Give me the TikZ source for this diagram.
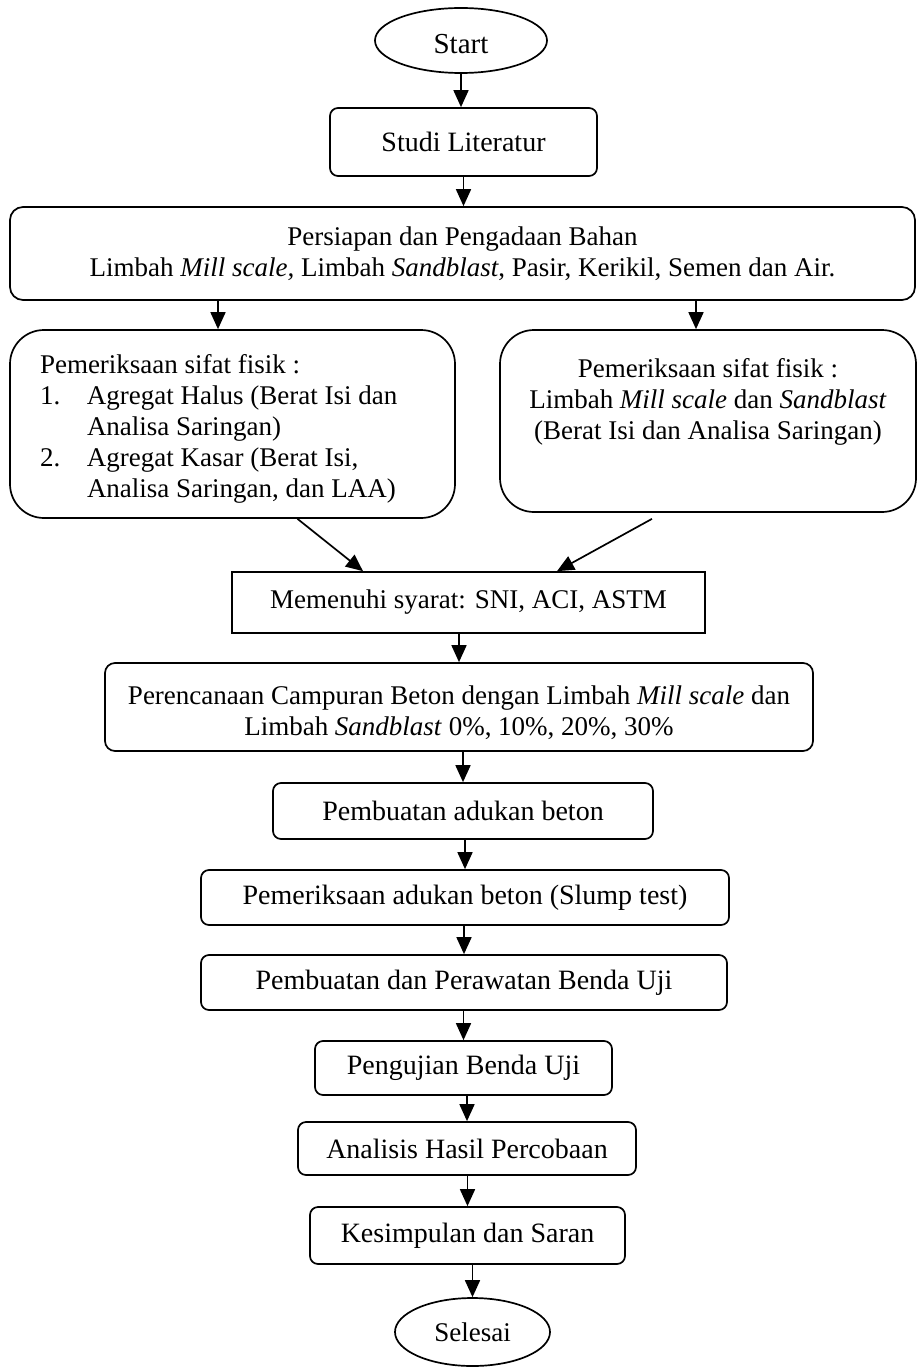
\documentclass[tikz,border=0pt]{standalone}
\usepackage{fontspec}
\setmainfont{Liberation Serif}
\usetikzlibrary{shapes.geometric,arrows.meta}
\begin{document}
\begin{tikzpicture}[x=1pt,y=-1pt,line width=1.7pt,
  every node/.style={font=\fontsize{27}{31}\selectfont},
  big/.style={font=\fontsize{28}{31}\selectfont},
  box/.style={draw,rounded corners=8pt,inner sep=0pt,align=center},
  sqbox/.style={draw,inner sep=0pt,align=center},
  bigbox/.style={draw,rounded corners=34pt,inner sep=0pt},
  term/.style={draw,ellipse,inner sep=0pt},
  arr/.style={-{Triangle[length=17pt,width=15pt]},line width=1.7pt}]
\useasboundingbox (0,0) rectangle (917,1367);

\node[term,minimum width=172pt,minimum height=65pt,font=\fontsize{29}{31}\selectfont] (start) at (461,40.5) {\rule{0pt}{26pt}Start};
\node[box,big,minimum width=267pt,minimum height=68pt] (studi) at (463.5,142) {Studi Literatur};
\node[box,rounded corners=13pt,minimum width=905pt,minimum height=93pt] (persiapan) at (462.5,253.5)
  {Persiapan dan Pengadaan Bahan\\Limbah \textit{Mill scale,} Limbah \textit{Sandblast}, Pasir, Kerikil, Semen dan Air.};
\node[bigbox,minimum width=445pt,minimum height=188pt,
  label={[anchor=west,align=left,inner sep=0pt,xshift=30pt,yshift=-5pt]west:{Pemeriksaan sifat fisik :\\
   \makebox[47pt][l]{1.}Agregat Halus (Berat Isi dan\\
   \hspace*{47pt}Analisa Saringan)\\
   \makebox[47pt][l]{2.}Agregat Kasar (Berat Isi,\\
   \hspace*{47pt}Analisa Saringan, dan LAA)}}] (lbox) at (232.5,424) {};
\node[bigbox,minimum width=416pt,minimum height=182pt,
  label={[anchor=north,align=center,inner sep=0pt,yshift=-28pt]north:{Pemeriksaan sifat fisik :\\Limbah \textit{Mill scale} dan \textit{Sandblast}\\(Berat Isi dan Analisa Saringan)}}] (rbox) at (708,421) {};
\node[sqbox,minimum width=473pt,minimum height=61pt] (memenuhi) at (468.5,602.5) {Memenuhi syarat: SNI, ACI, ASTM};
\node[box,rounded corners=10pt,minimum width=708pt,minimum height=88pt] (perenc) at (459,707)
  {\rule{0pt}{30pt}Perencanaan Campuran Beton dengan Limbah \textit{Mill scale} dan\\Limbah \textit{Sandblast} 0\%, 10\%, 20\%, 30\%};
\node[box,big,minimum width=380pt,minimum height=56pt] (adukan) at (463,811) {Pembuatan adukan beton};
\node[box,big,minimum width=528pt,minimum height=55pt] (slump) at (465,897.5) {Pemeriksaan adukan beton (Slump test)};
\node[box,big,minimum width=526pt,minimum height=55pt] (rawat) at (464,982.5) {Pembuatan dan Perawatan Benda Uji};
\node[box,big,minimum width=297pt,minimum height=54pt] (uji) at (463.5,1068) {Pengujian Benda Uji};
\node[box,big,minimum width=338pt,minimum height=53pt] (analisis) at (467,1148.5) {Analisis Hasil Percobaan};
\node[box,big,minimum width=315pt,minimum height=57pt] (simpul) at (467.5,1235.5) {Kesimpulan dan Saran};
\node[term,minimum width=155pt,minimum height=68pt] (selesai) at (472.5,1332) {Selesai};

\draw[arr] (start.south) -- (start.south |- studi.north);
\draw[arr] (studi.south) -- (studi.south |- persiapan.north);
\draw[arr] ([xshift=-14.5pt]lbox.north |- persiapan.south) -- ([xshift=-14.5pt]lbox.north);
\draw[arr] ([xshift=-12pt]rbox.north |- persiapan.south) -- ([xshift=-12pt]rbox.north);
\draw[arr] ([xshift=65pt]lbox.south) -- ([xshift=-105.5pt]memenuhi.north);
\draw[arr] ([xshift=-56pt,yshift=-6pt]rbox.south) -- ([xshift=88.5pt]memenuhi.north);
\draw[arr] (perenc.north |- memenuhi.south) -- (perenc.north);
\draw[arr] (adukan.north |- perenc.south) -- (adukan.north);
\draw[arr] (slump.north |- adukan.south) -- (slump.north);
\draw[arr] (rawat.north |- slump.south) -- (rawat.north);
\draw[arr] (uji.north |- rawat.south) -- (uji.north);
\draw[arr] (analisis.north |- uji.south) -- (analisis.north);
\draw[arr] (simpul.north |- analisis.south) -- (simpul.north);
\draw[arr] (selesai.north |- simpul.south) -- (selesai.north);
\end{tikzpicture}
\end{document}
